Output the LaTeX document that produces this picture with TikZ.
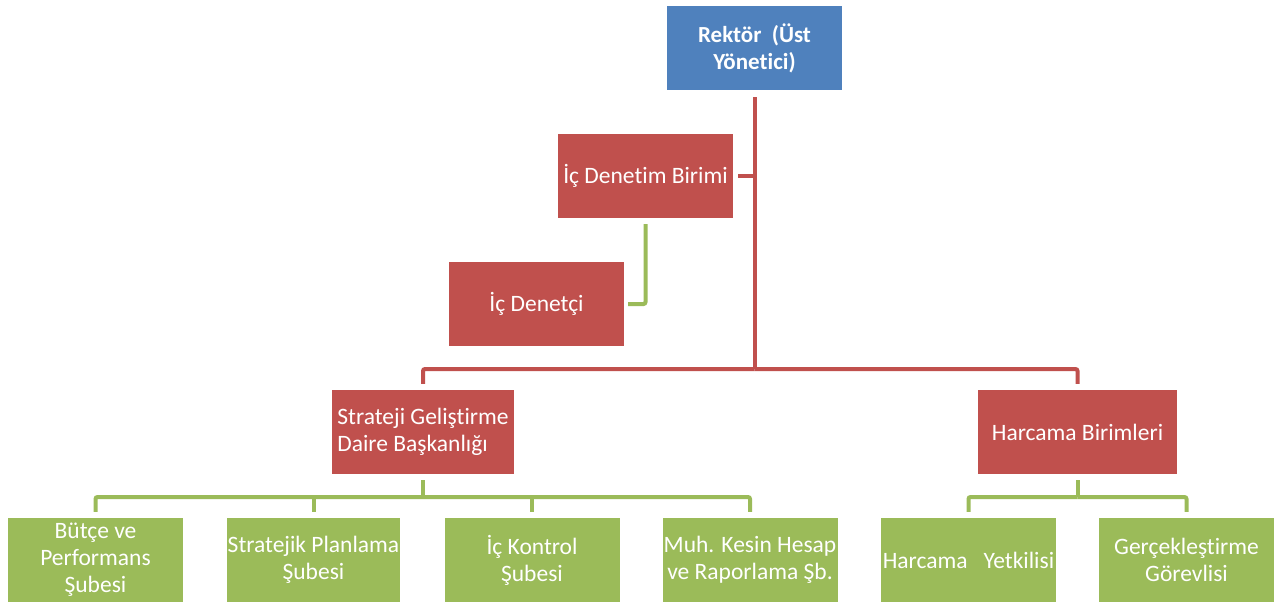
\documentclass[tikz,border=0pt]{standalone}
\usepackage{fontspec}
\setmainfont[Ligatures=NoCommon]{Carlito}
\definecolor{cblue}{HTML}{4F81BD}
\definecolor{cred}{HTML}{C0504D}
\definecolor{cgreen}{HTML}{9BBB59}
\begin{document}
\begin{tikzpicture}[x=1pt,y=-1pt,
  box/.style={draw=none, inner sep=0pt, align=center, text=white,
    minimum width=175pt, minimum height=84pt,
    font=\fontsize{23.5}{27}\selectfont},
  bluebox/.style={box, fill=cblue, font=\fontsize{23}{27}\selectfont\bfseries},
  redbox/.style={box, fill=cred},
  greenbox/.style={box, fill=cgreen},
  redline/.style={draw=cred, line width=4pt, rounded corners=2pt},
  greenline/.style={draw=cgreen, line width=4pt, rounded corners=2pt}]
\useasboundingbox (0,0) rectangle (1287,606);

\node[bluebox] (rek) at (754.5,48) {Rektör~~(Üst\\Yönetici)};
\node[redbox] (icdb) at (645.5,176) {İç Denetim Birimi};
\node[redbox] (icd) at (536.5,304) {İç Denetçi};
\node[redbox, minimum width=182pt, align=left] (sgdb) at (423,432) {Strateji Geliştirme\\Daire Başkanlığı};
\node[redbox, minimum width=199pt] (hb) at (1077.5,432) {Harcama Birimleri};

\node[greenbox] (b1) at (95.5,560) {Bütçe ve\\Performans\\Şubesi};
\node[greenbox, minimum width=173pt] (b2) at (313.5,560) {Stratejik Planlama\\Şubesi};
\node[greenbox] (b3) at (532,560) {İç Kontrol\\Şubesi};
\node[greenbox] (b4) at (750,560) {Muh. Kesin Hesap\\ve Raporlama Şb.};
\node[greenbox] (h1) at (968.5,560) {Harcama~~~Yetkilisi};
\node[greenbox] (h2) at (1186.5,560) {Gerçekleştirme\\Görevlisi};

\coordinate (bus) at (754.5,369);
\coordinate (gbus) at (423,497);
\coordinate (hbus) at (1077.5,497);

% red trunk
\draw[redline] ([yshift=-7pt]rek.south) -- (bus);
\draw[redline] ([xshift=5pt]icdb.east) -- (icdb.east -| bus);
\draw[redline] ([yshift=6pt]sgdb.north) |- (bus);
\draw[redline] (bus) -| ([yshift=6pt]hb.north);

% green İç Denetim
\draw[greenline] ([yshift=-6pt]icdb.south) |- ([xshift=4pt]icd.east);

% green Strateji
\draw[greenline] ([yshift=-6pt]sgdb.south) -- (sgdb.south |- gbus);
\draw[greenline] ([yshift=6pt]b1.north) |- (gbus);
\draw[greenline] (gbus) -| ([yshift=6pt]b4.north);
\draw[greenline] ([yshift=6pt]b2.north) -- (b2.north |- gbus);
\draw[greenline] ([yshift=6pt]b3.north) -- (b3.north |- gbus);

% green Harcama
\draw[greenline] ([yshift=-6pt]hb.south) -- (hbus);
\draw[greenline] ([yshift=6pt]h1.north) |- (hbus);
\draw[greenline] (hbus) -| ([yshift=6pt]h2.north);
\end{tikzpicture}
\end{document}
